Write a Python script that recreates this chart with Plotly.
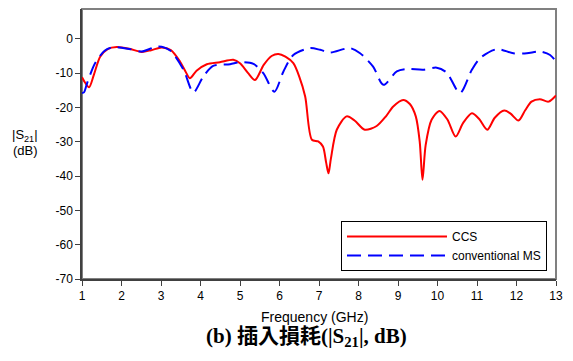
import plotly.graph_objects as go

# CCS (red solid)
ccs_f = [1.0, 1.08, 1.18, 1.3, 1.46, 1.65, 1.88, 2.2, 2.51, 2.75, 3.02, 3.25, 3.48, 3.62, 3.73, 3.9, 4.16, 4.49, 4.83, 5.0, 5.2, 5.38, 5.6, 5.8, 5.97, 6.15, 6.35, 6.5, 6.65, 6.82, 6.98, 7.1, 7.18, 7.24, 7.3, 7.45, 7.7, 7.9, 8.16, 8.46, 8.7, 8.88, 9.13, 9.3, 9.45, 9.55, 9.62, 9.7, 9.85, 10.05, 10.25, 10.46, 10.65, 10.87, 11.05, 11.26, 11.45, 11.69, 11.85, 12.05, 12.22, 12.38, 12.59, 12.81, 13.0]
ccs_db = [-11.2, -12.8, -14.1, -10.5, -5.2, -3.0, -2.4, -2.9, -3.8, -3.3, -2.5, -3.3, -6.6, -9.5, -11.5, -9.3, -7.4, -6.8, -6.1, -7.1, -9.9, -12.0, -7.6, -5.0, -4.4, -5.2, -7.1, -11.0, -16.8, -29.4, -29.9, -31.4, -36.0, -39.2, -35.0, -26.5, -22.6, -23.8, -26.5, -25.4, -22.5, -19.7, -17.8, -19.0, -22.6, -30.0, -41.1, -31.0, -23.6, -21.0, -23.5, -28.5, -24.5, -21.7, -23.3, -26.5, -23.0, -20.9, -21.8, -23.8, -20.8, -18.3, -17.6, -18.3, -16.5]

# conventional MS (blue dashed)
ms_f = [1.0, 1.05, 1.13, 1.33, 1.58, 1.79, 2.22, 2.51, 2.93, 3.23, 3.57, 3.82, 4.07, 4.32, 4.75, 5.0, 5.34, 5.59, 5.87, 6.1, 6.35, 6.77, 7.03, 7.28, 7.78, 8.04, 8.37, 8.63, 8.97, 9.22, 9.64, 9.98, 10.23, 10.57, 10.87, 11.08, 11.5, 11.92, 12.26, 12.59, 12.85, 13.0]
ms_db = [-15.8, -15.6, -12.9, -7.1, -3.4, -2.4, -3.0, -3.7, -2.2, -3.4, -9.0, -15.6, -11.0, -7.9, -7.4, -6.8, -7.3, -10.0, -15.4, -9.5, -4.7, -2.7, -3.2, -4.0, -2.7, -4.2, -8.1, -13.4, -9.5, -8.8, -9.0, -8.4, -9.8, -15.8, -9.0, -5.6, -3.0, -4.2, -4.2, -3.7, -4.7, -6.6]

x_ticks = list(range(1, 14))
y_ticks = [0, -10, -20, -30, -40, -50, -60, -70]
y_tick_labels = ["0", "-10", "-20", "-30", "-40", "-50", "-60", "-70"]

series_names = ["CCS", "conventional MS"]

fig = go.Figure()
fig.add_trace(go.Scatter(x=ccs_f, y=ccs_db, mode="lines", name=series_names[0],
                         line=dict(color="#ff0000", width=2, shape="spline", smoothing=0.8)))
fig.add_trace(go.Scatter(x=ms_f, y=ms_db, mode="lines", name=series_names[1],
                         line=dict(color="#0000ff", width=2, dash="14px,7px", shape="spline", smoothing=0.8)))

font_sans = "Liberation Sans, Arial, sans-serif"

fig.update_layout(
    width=573, height=361,
    margin=dict(l=82, r=17, t=9, b=82),
    paper_bgcolor="white", plot_bgcolor="white",
    font=dict(family=font_sans, size=12, color="black"),
    showlegend=True,
    legend=dict(x=0.981, y=0.03, xanchor="right", yanchor="bottom",
                bordercolor="black", borderwidth=1, bgcolor="white",
                font=dict(size=12, family=font_sans), tracegroupgap=0,
                itemwidth=100),
    xaxis=dict(range=[1, 13], tickvals=x_ticks, ticks="outside", ticklen=5,
               showgrid=False, zeroline=False, showline=True, linecolor="#404040", linewidth=1.5,
               tickcolor="#404040", tickfont=dict(size=12, family=font_sans)),
    yaxis=dict(range=[-70, 8.7], tickvals=y_ticks, ticktext=y_tick_labels, ticks="outside", ticklen=5,
               showgrid=False, zeroline=False, showline=True, linecolor="#404040", linewidth=1.5,
               tickcolor="#404040", tickfont=dict(size=12, family=font_sans)),
    shapes=[dict(type="rect", xref="paper", yref="paper", x0=0, y0=0, x1=1, y1=1,
                 line=dict(color="#808080", width=2), layer="below")],
    annotations=[
        dict(text="Frequency (GHz)", xref="paper", yref="paper", x=0.49, y=-0.141,
             xanchor="center", yanchor="middle", showarrow=False,
             font=dict(size=14, family=font_sans)),
        dict(text="|S<sub>21</sub>|", xref="paper", yref="paper", x=-0.12, y=0.53,
             xanchor="center", yanchor="middle", showarrow=False,
             font=dict(size=13, family=font_sans)),
        dict(text="(dB)", xref="paper", yref="paper", x=-0.12, y=0.475,
             xanchor="center", yanchor="middle", showarrow=False,
             font=dict(size=13, family=font_sans)),
        dict(text="<b>(b) 插入損耗(|S<sub>21</sub>|, dB)</b>", xref="paper", yref="paper",
             x=0.473, y=-0.215, xanchor="center", yanchor="middle", showarrow=False,
             font=dict(size=21, family="Liberation Serif, Noto Sans CJK TC, serif")),
    ],
)

fig.write_html("out.html")
